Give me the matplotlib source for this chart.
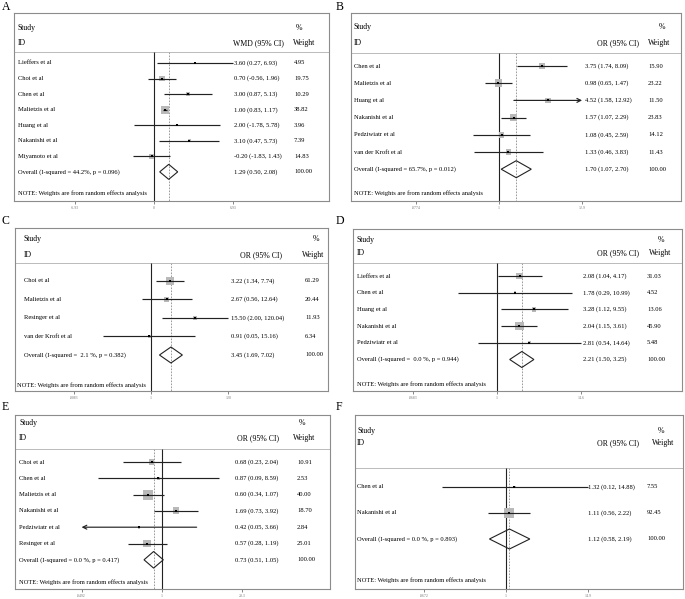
import numpy as np
import matplotlib
matplotlib.use('Agg')
import matplotlib.pyplot as plt
from matplotlib.transforms import blended_transform_factory
from matplotlib.patches import Polygon
from matplotlib.ticker import NullLocator

plt.rcParams['font.family'] = ['Liberation Serif', 'DejaVu Serif']
W, H = 685, 599

# ---- A (WMD) ----
a_ids = ["Lieffers et al", "Choi et al", "Chen et al", "Malietzis et al", "Huang et al", "Nakanishi et al", "Miyamoto et al"]
a_est = [3.60, 0.70, 3.00, 1.00, 2.00, 3.10, -0.20]
a_lo = [0.27, -0.56, 0.87, 0.83, -1.78, 0.47, -1.83]
a_hi = [6.93, 1.96, 5.13, 1.17, 5.78, 5.73, 1.43]
a_wt = [4.95, 19.75, 10.29, 38.82, 3.96, 7.39, 14.83]
a_ov = (1.29, 0.50, 2.08)
a_het = "Overall (I-squared = 44.2%, p = 0.096)"
a_ticks = [-6.93, 0, 6.93]; a_ticklab = ["-6.93", "0", "6.93"]

# ---- B ----
b_ids = ["Chen et al", "Malietzis et al", "Huang et al", "Nakanishi et al", "Pedziwiatr et al", "van der Kroft et al"]
b_est = [3.75, 0.98, 4.52, 1.57, 1.08, 1.33]
b_lo = [1.74, 0.65, 1.58, 1.07, 0.45, 0.46]
b_hi = [8.09, 1.47, 12.92, 2.29, 2.59, 3.83]
b_wt = [15.90, 23.22, 11.50, 23.83, 14.12, 11.43]
b_ov = (1.70, 1.07, 2.70)
b_het = "Overall (I-squared = 65.7%, p = 0.012)"
b_ticks = [0.0774, 1, 12.9]; b_ticklab = [".0774", "1", "12.9"]
b_arrows = {"Huang et al": "right"}

# ---- C ----
c_ids = ["Choi et al", "Malietzis et al", "Resinger et al", "van der Kroft et al"]
c_est = [3.22, 2.67, 15.50, 0.91]
c_lo = [1.34, 0.56, 2.00, 0.05]
c_hi = [7.74, 12.64, 120.04, 15.16]
c_wt = [61.29, 20.44, 11.93, 6.34]
c_ov = (3.45, 1.69, 7.02)
c_het = "Overall (I-squared =  2.1 %, p = 0.382)"
c_ticks = [0.0083, 1, 120]; c_ticklab = [".0083", "1", "120"]

# ---- D ----
d_ids = ["Lieffers et al", "Chen et al", "Huang et al", "Nakanishi et al", "Pedziwiatr et al"]
d_est = [2.08, 1.78, 3.28, 2.04, 2.81]
d_lo = [1.04, 0.29, 1.12, 1.15, 0.54]
d_hi = [4.17, 10.99, 9.55, 3.61, 14.64]
d_wt = [31.03, 4.52, 13.06, 45.90, 5.48]
d_ov = (2.21, 1.50, 3.25)
d_het = "Overall (I-squared =  0.0 %, p = 0.944)"
d_ticks = [0.0683, 1, 14.6]; d_ticklab = [".0683", "1", "14.6"]

# ---- E ----
e_ids = ["Choi et al", "Chen et al", "Malietzis et al", "Nakanishi et al", "Pedziwiatr et al", "Resinger et al"]
e_est = [0.68, 0.87, 0.60, 1.69, 0.42, 0.57]
e_lo = [0.23, 0.09, 0.34, 0.73, 0.05, 0.28]
e_hi = [2.04, 8.59, 1.07, 3.92, 3.66, 1.19]
e_wt = [10.91, 2.53, 40.00, 18.70, 2.84, 25.01]
e_ov = (0.73, 0.51, 1.05)
e_het = "Overall (I-squared = 0.0 %, p = 0.417)"
e_ticks = [0.0492, 1, 20.3]; e_ticklab = [".0492", "1", "20.3"]
e_arrows = {"Pedziwiatr et al": "left"}

# ---- F ----
f_ids = ["Chen et al", "Nakanishi et al"]
f_est = [1.32, 1.11]
f_lo = [0.12, 0.56]
f_hi = [14.88, 2.22]
f_wt = [7.55, 92.45]
f_ov = (1.12, 0.58, 2.19)
f_het = "Overall (I-squared = 0.0 %, p = 0.893)"
f_ticks = [0.0672, 1, 14.9]; f_ticklab = [".0672", "1", "14.9"]

note = "NOTE: Weights are from random effects analysis"

fig = plt.figure(figsize=(W/100, H/100), dpi=100)


def forest(tag, lpos, ids, est, lo, hi, wt, ov, het, measure, log, ticks, ticklab, arrows, L):
    l, t, r, b = L['box']
    ax = fig.add_axes([l/W, 1-b/H, (r-l)/W, (b-t)/H])
    null, ppu = L['null'], L['ppu']
    if log:
        ax.set_xscale('log')
        ax.set_xlim(np.exp((l-null)/ppu), np.exp((r-null)/ppu))
    else:
        ax.set_xlim((l-null)/ppu, (r-null)/ppu)
    row0, step = L['row0'], L['step']
    yr = lambda px: (px-row0)/step
    ybot, ytop = yr(b), yr(t)
    ax.set_ylim(ybot, ytop)
    tr = blended_transform_factory(ax.transAxes, ax.transData)
    xf = lambda px: (px-l)/(r-l)
    fs, hfs = 4.7, 5.6

    # header
    ax.text(xf(L['x_id']), yr(L['y_study']), "Study", transform=tr, fontsize=hfs, va='center')
    ax.text(xf(L['x_id']), yr(L['y_id']), "ID", transform=tr, fontsize=hfs, va='center')
    ax.text(xf(L['x_meas']), yr(L['y_id']), measure, transform=tr, fontsize=hfs, va='center')
    ax.text(xf(L['x_pct']), yr(L['y_study']), "%", transform=tr, fontsize=hfs, va='center')
    ax.text(xf(L['x_wlab']), yr(L['y_id']), "Weight", transform=tr, fontsize=hfs, va='center')
    ax.axhline(yr(L['y_sep']), color='#b0b0b0', lw=0.6)

    # reference lines
    nv = 1 if log else 0
    ax.vlines(nv, yr(L['y_sep']), ybot, color='#222222', lw=0.8, zorder=2)
    ax.vlines(ov[0], yr(L['y_sep']), ybot, color='#8a8a8a', lw=0.6, linestyles=(0, (2, 1.6)), zorder=1)

    n = len(ids)
    rows = np.arange(n)
    sq = L['sq'] * 0.72
    wmax = max(wt)
    for i in rows:
        side = arrows.get(ids[i]) if arrows else None
        if side == 'right':
            ax.annotate('', xy=(ticks[-1], i), xytext=(lo[i], i),
                        arrowprops=dict(arrowstyle='->', lw=0.85, color='#222222', mutation_scale=7,
                                        shrinkA=0, shrinkB=0))
        elif side == 'left':
            ax.annotate('', xy=(ticks[0], i), xytext=(hi[i], i),
                        arrowprops=dict(arrowstyle='->', lw=0.85, color='#222222', mutation_scale=7,
                                        shrinkA=0, shrinkB=0))
        else:
            ax.hlines(i, lo[i], hi[i], color='#222222', lw=0.85, zorder=3)
        ax.text(xf(L['x_id']), i, ids[i], transform=tr, fontsize=fs, va='center')
        ax.text(xf(L['x_eff']), i, f"{est[i]:.2f} ({lo[i]:.2f}, {hi[i]:.2f})", transform=tr, fontsize=fs, va='center')
        ax.text(xf(L['x_wt']), i, f"{wt[i]:.2f}", transform=tr, fontsize=fs, va='center')
    ax.scatter(est, rows, marker='s', s=(sq**2)*np.array(wt)/wmax, color='#b9b9b9', lw=0, zorder=2)
    ax.scatter(est, rows, marker='s', s=3.5, color='black', lw=0, zorder=4)

    # overall diamond
    h = L['dia'] / step
    ax.add_patch(Polygon([(ov[1], n), (ov[0], n-h), (ov[2], n), (ov[0], n+h)], closed=True,
                         fill=False, edgecolor='#222222', lw=0.8, zorder=4))
    ax.text(xf(L['x_id']), n, het, transform=tr, fontsize=fs, va='center')
    ax.text(xf(L['x_eff']), n, f"{ov[0]:.2f} ({ov[1]:.2f}, {ov[2]:.2f})", transform=tr, fontsize=fs, va='center')
    ax.text(xf(L['x_wt']), n, "100.00", transform=tr, fontsize=fs, va='center')
    ax.text(xf(L['x_note']), yr(L['y_note']), note, transform=tr, fontsize=fs, va='center')

    # axis
    ax.set_xticks(ticks)
    ax.set_xticklabels(ticklab)
    ax.xaxis.set_minor_locator(NullLocator())
    ax.tick_params(axis='x', direction='out', length=2.5, width=0.5, color='#555555',
                   labelsize=2.8, labelcolor='#777777', pad=0.8)
    ax.set_yticks([])
    for s in ax.spines.values():
        s.set_color('#8c8c8c'); s.set_linewidth(0.8)
    fig.text(lpos[0]/W, 1-lpos[1]/H, tag, fontsize=8.5, va='top', ha='left')
    return ax


LA = dict(box=(14, 13, 329, 201), null=154, ppu=11.4, row0=63, step=15.55, y_study=28, y_id=43, y_sep=52,
          y_note=193, x_id=18, x_note=18, x_eff=234, x_wt=294, x_meas=233, x_pct=296, x_wlab=293, sq=8, dia=7.5)
LB = dict(box=(351, 13, 681, 201), null=499, ppu=32.5, row0=66, step=17.2, y_study=27, y_id=43, y_sep=53,
          y_note=193, x_id=354, x_note=354, x_eff=585, x_wt=648, x_meas=597, x_pct=659, x_wlab=648, sq=7.5, dia=8.5)
LC = dict(box=(15, 228, 328, 391), null=151, ppu=16.1, row0=281, step=18.5, y_study=239, y_id=255, y_sep=263,
          y_note=385, x_id=24, x_note=17, x_eff=231, x_wt=305, x_meas=240, x_pct=313, x_wlab=302, sq=8.5, dia=8)
LD = dict(box=(353, 229, 682, 391), null=497, ppu=31.3, row0=276, step=16.7, y_study=240, y_id=253, y_sep=263,
          y_note=384, x_id=357, x_note=357, x_eff=583, x_wt=647, x_meas=597, x_pct=658, x_wlab=649, sq=8.5, dia=8)
LE = dict(box=(15, 415, 330, 589), null=162, ppu=26.7, row0=462, step=16.3, y_study=423, y_id=438, y_sep=449,
          y_note=582, x_id=19, x_note=19, x_eff=235, x_wt=297, x_meas=237, x_pct=299, x_wlab=293, sq=10, dia=8.3)
LF = dict(box=(355, 415, 683, 589), null=506, ppu=30.4, row0=487, step=26, y_study=431, y_id=443, y_sep=468,
          y_note=580, x_id=357, x_note=357, x_eff=588, x_wt=647, x_meas=597, x_pct=658, x_wlab=652, sq=10, dia=10)

forest('A', (2, 1), a_ids, a_est, a_lo, a_hi, a_wt, a_ov, a_het, "WMD (95% CI)", False, a_ticks, a_ticklab, None, LA)
forest('B', (336, 1), b_ids, b_est, b_lo, b_hi, b_wt, b_ov, b_het, "OR (95% CI)", True, b_ticks, b_ticklab, b_arrows, LB)
forest('C', (2, 215), c_ids, c_est, c_lo, c_hi, c_wt, c_ov, c_het, "OR (95% CI)", True, c_ticks, c_ticklab, None, LC)
forest('D', (336, 215), d_ids, d_est, d_lo, d_hi, d_wt, d_ov, d_het, "OR (95% CI)", True, d_ticks, d_ticklab, None, LD)
forest('E', (2, 401), e_ids, e_est, e_lo, e_hi, e_wt, e_ov, e_het, "OR (95% CI)", True, e_ticks, e_ticklab, e_arrows, LE)
forest('F', (336, 401), f_ids, f_est, f_lo, f_hi, f_wt, f_ov, f_het, "OR (95% CI)", True, f_ticks, f_ticklab, None, LF)

fig.savefig("out.png", dpi=100, facecolor='white')
